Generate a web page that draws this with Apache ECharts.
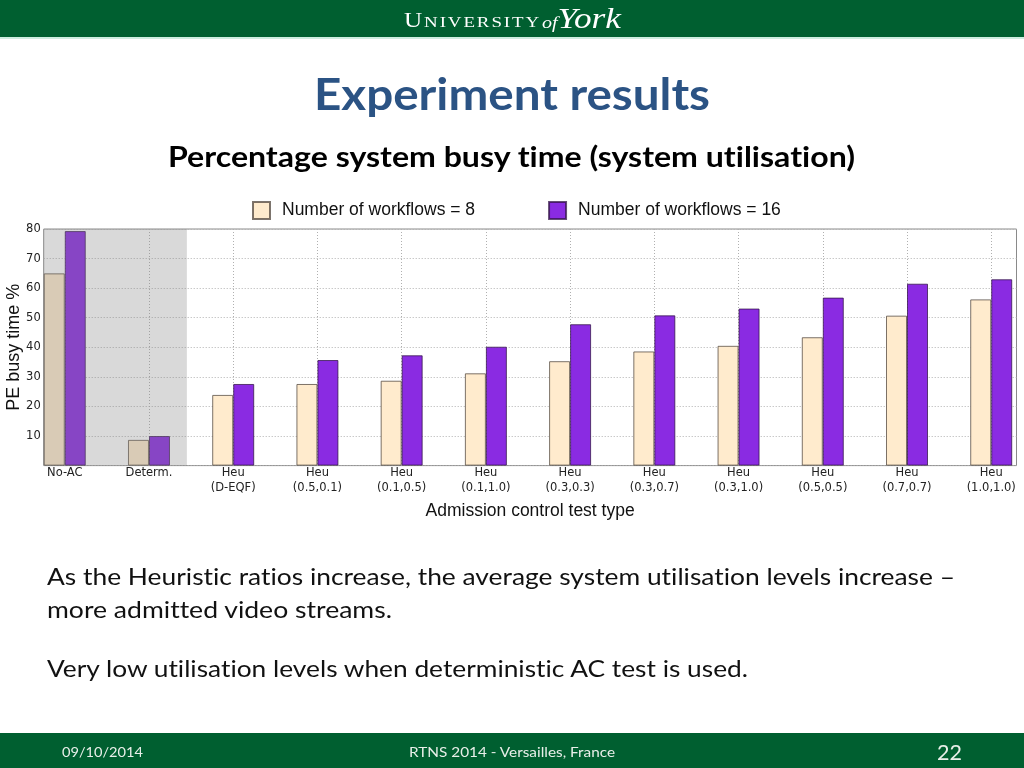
<!DOCTYPE html>
<html><head><meta charset="utf-8">
<title>Experiment results</title>
<script src="https://cdn.jsdelivr.net/npm/echarts@6/dist/echarts.min.js"></script>
<style>
html,body{margin:0;padding:0;background:#fff;}
body{position:relative;width:1024px;height:768px;overflow:hidden;}
#chart{position:absolute;left:0;top:0;width:1024px;height:768px;}
.band{position:absolute;left:0;width:1024px;background:#005f30;}
.t{position:absolute;white-space:nowrap;line-height:1;transform-origin:0 0;font-family:Lato,"Open Sans",sans-serif;font-variant-ligatures:none;font-feature-settings:"liga" 0,"dlig" 0;}
</style></head>
<body>
<div class="band" style="top:0;height:37px"></div>
<div style="position:absolute;left:0;top:37px;width:1024px;height:2px;background:#cdeee0"></div>
<div class="band" style="top:733px;height:35px"></div>
<div id="chart"></div>

<div class="t" data-w="137" style="left:404px;top:10px;font-family:'Liberation Serif',serif;font-size:20px;color:#fff;letter-spacing:1.5px">U<span style="font-size:15px">NIVERSITY</span></div>
<div class="t" data-w="79" style="left:542px;top:3px;font-family:'Liberation Serif',serif;font-style:italic;font-size:30px;color:#fff"><span style="font-size:17px">of</span>York</div>

<div class="t" data-w="396" style="left:314px;top:71px;font-size:44px;font-weight:bold;color:#2b5384">Experiment results</div>
<div class="t" data-w="687" style="left:168px;top:141px;font-size:29px;font-weight:bold;color:#000">Percentage system busy time (system utilisation)</div>

<div class="t" data-w="908" style="left:47px;top:566px;font-size:22.3px;color:#111">As the Heuristic ratios increase, the average system utilisation levels increase –</div>
<div class="t" data-w="345" style="left:47px;top:599px;font-size:22.3px;color:#111">more admitted video streams.</div>
<div class="t" data-w="701" style="left:47px;top:658px;font-size:22.3px;color:#111">Very low utilisation levels when deterministic AC test is used.</div>

<div class="t" data-w="81" style="left:62px;top:744.6px;font-size:14px;color:#e8efe9">09/10/2014</div>
<div class="t" data-w="206" style="left:409px;top:744.6px;font-size:14px;color:#e8efe9">RTNS 2014 - Versailles, France</div>
<div class="t" data-w="25" style="left:937px;top:740.5px;font-size:22px;color:#e8efe9">22</div>

<script>
// ---- data ----
const categories = ['No-AC', 'Determ.', 'Heu\n(D-EQF)', 'Heu\n(0.5,0.1)', 'Heu\n(0.1,0.5)', 'Heu\n(0.1,1.0)',
  'Heu\n(0.3,0.3)', 'Heu\n(0.3,0.7)', 'Heu\n(0.3,1.0)', 'Heu\n(0.5,0.5)', 'Heu\n(0.7,0.7)', 'Heu\n(1.0,1.0)'];
const workflows8  = [65.0, 8.7, 23.9, 27.6, 28.7, 31.2, 35.3, 38.6, 40.5, 43.4, 50.7, 56.2];
const workflows16 = [79.3, 10.0, 27.6, 35.7, 37.3, 40.2, 47.8, 50.8, 53.1, 56.8, 61.5, 63.0];
const seriesNames = ['Number of workflows = 8', 'Number of workflows = 16'];
const yTicks = [10, 20, 30, 40, 50, 60, 70, 80];

// ---- chart ----
const xIdx = categories.map((_, i) => i);
const chart = echarts.init(document.getElementById('chart'), null, {renderer: 'canvas'});
const gridLine = {show: true, lineStyle: {type: [1, 2], color: '#b0b0b0', width: 1}};
chart.setOption({
  animation: false,
  backgroundColor: 'transparent',
  grid: {left: 43.7, right: 7.5, top: 229, bottom: 302.4, show: true, borderColor: '#8a8a8a', borderWidth: 1,
    backgroundColor: 'transparent', containLabel: false, outerBoundsMode: 'none'},
  legend: {
    data: seriesNames, left: 247, top: 196, itemWidth: 17, itemHeight: 17, itemGap: 73, icon: 'rect',
    textStyle: {fontFamily: 'Liberation Sans', fontSize: 17.5, color: '#111', padding: [0, 0, 0, 7]}
  },
  xAxis: {
    type: 'value', min: -0.25, max: 11.3,
    name: 'Admission control test type', nameLocation: 'middle', nameGap: 37,
    nameTextStyle: {fontFamily: 'Liberation Sans', fontSize: 17.5, color: '#111'},
    axisLine: {show: false},
    axisTick: {show: false, customValues: xIdx},
    axisLabel: {customValues: xIdx, formatter: v => categories[Math.round(v)], fontFamily: 'DejaVu Sans', fontSize: 11.5, lineHeight: 15, color: '#222', margin: 0},
    splitLine: gridLine
  },
  yAxis: {
    type: 'value', min: 0, max: 80, interval: 10,
    name: 'PE busy time %', nameLocation: 'middle', nameGap: 21, nameRotate: 90, nameMoveOverlap: false,
    nameTextStyle: {fontFamily: 'Liberation Sans', fontSize: 18, color: '#111'},
    axisLine: {show: false}, axisTick: {show: false},
    axisLabel: {customValues: yTicks, fontFamily: 'DejaVu Sans', fontSize: 11.5, color: '#222', margin: 3},
    splitLine: gridLine
  },
  series: [
    {
      name: seriesNames[0], type: 'bar', barWidth: 21, barGap: '0%',
      data: workflows8.map((v, i) => [i, v]),
      itemStyle: {color: '#ffebcd', borderColor: 'rgba(80,70,60,0.75)', borderWidth: 1},
      markArea: {silent: true, z: 10, itemStyle: {color: 'rgba(128,128,128,0.3)'}, data: [[{xAxis: -0.25}, {xAxis: 1.45}]]}
    },
    {
      name: seriesNames[1], type: 'bar', barWidth: 21, barGap: '0%',
      data: workflows16.map((v, i) => [i, v]),
      itemStyle: {color: '#8a2be2', borderColor: 'rgba(50,20,70,0.75)', borderWidth: 1}
    }
  ]
});

// ---- fit slide text widths ----
function fit() {
  document.querySelectorAll('[data-w]').forEach(el => {
    el.style.transform = 'none';
    const w = el.getBoundingClientRect().width;
    el.style.transform = 'scaleX(' + (+el.dataset.w / w) + ')';
  });
}
fit();
if (document.fonts) document.fonts.ready.then(fit);
</script>
</body></html>
